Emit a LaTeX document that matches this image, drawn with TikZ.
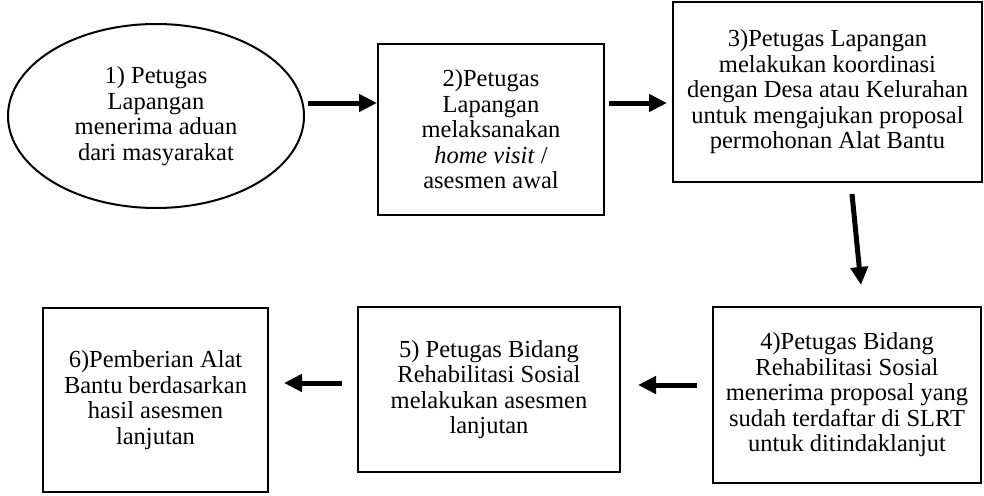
\documentclass[tikz,border=0pt]{standalone}
\usepackage{fontspec}
\setmainfont{Liberation Serif}
\usetikzlibrary{shapes.geometric,arrows.meta}
\tikzset{
  boxnode/.style={draw, line width=2pt, inner sep=0pt, align=center, font=\fontsize{24.5}{25.5}\selectfont},
  ovalnode/.style={ellipse, draw, line width=2pt, inner sep=0pt, align=center, font=\fontsize{24.5}{25.5}\selectfont},
  thickarrow/.style={line width=5pt, -{Triangle[length=18pt,width=17pt]}}
}
\begin{document}
\begin{tikzpicture}[x=1pt,y=-1pt]
\useasboundingbox[fill=white] (0,0) rectangle (984,495);
\node[ovalnode, minimum width=296pt, minimum height=184pt] (e1) at (156,116)
  {1) Petugas\\Lapangan\\menerima aduan\\dari masyarakat};
\node[boxnode, minimum width=226pt, minimum height=171pt] (b2) at (491,129.5)
  {2)Petugas\\Lapangan\\melaksanakan\\\textit{home visit} /\\asesmen awal};
\node[boxnode, minimum width=309pt, minimum height=180pt] (b3) at (827.5,92)
  {3)Petugas Lapangan\\melakukan koordinasi\\dengan Desa atau Kelurahan\\untuk mengajukan proposal\\permohonan Alat Bantu};
\node[boxnode, minimum width=268pt, minimum height=176pt] (b4) at (847,395)
  {4)Petugas Bidang\\Rehabilitasi Sosial\\menerima proposal yang\\sudah terdaftar di SLRT\\untuk ditindaklanjut};
\node[boxnode, minimum width=262pt, minimum height=165pt] (b5) at (489,389.5)
  {5) Petugas Bidang\\Rehabilitasi Sosial\\melakukan asesmen\\lanjutan};
\node[boxnode, minimum width=225pt, minimum height=184pt] (b6) at (155.5,400)
  {6)Pemberian Alat\\Bantu berdasarkan\\hasil asesmen\\lanjutan};
\draw[thickarrow] ([xshift=3pt,yshift=13pt]e1.east) -- ([yshift=26.5pt]b2.west);
\draw[thickarrow] ([xshift=4pt,yshift=26.5pt]b2.east) -- ([xshift=-5pt,yshift=-11pt]b3.west);
\draw[thickarrow] ([xshift=24.5pt,yshift=-11pt]b3.south) -- ([xshift=14pt,yshift=21pt]b4.north);
\draw[thickarrow] ([xshift=-15pt,yshift=10pt]b4.west) -- ([xshift=17pt,yshift=4.5pt]b5.east);
\draw[thickarrow] ([xshift=-15pt,yshift=6.5pt]b5.west) -- ([xshift=15pt,yshift=17pt]b6.east);
\end{tikzpicture}
\end{document}
